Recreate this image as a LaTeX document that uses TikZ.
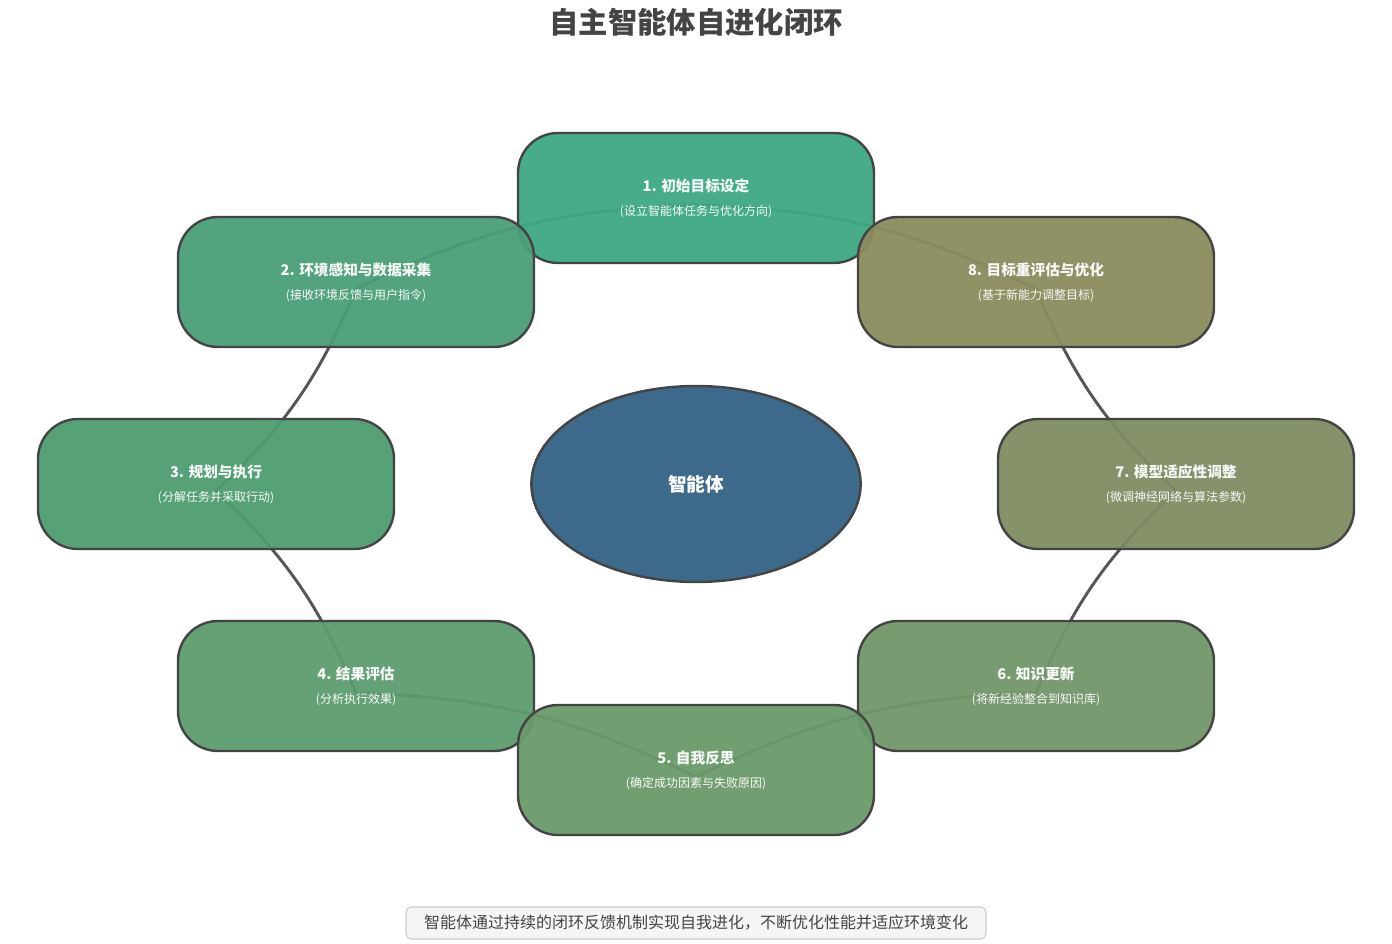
\documentclass[tikz,border=0pt]{standalone}
\usepackage{fontspec}
\setmainfont{Noto Sans CJK SC}
\usetikzlibrary{shapes.geometric}
\definecolor{c1}{HTML}{3DA882}\definecolor{c2}{HTML}{4A9E78}\definecolor{c3}{HTML}{4E9C70}
\definecolor{c4}{HTML}{5C9C6E}\definecolor{c5}{HTML}{6A9A6A}\definecolor{c6}{HTML}{72966A}
\definecolor{c7}{HTML}{7E8C62}\definecolor{c8}{HTML}{8A8C5E}\definecolor{cc}{HTML}{3D6A8A}
\definecolor{edge}{HTML}{444444}
\tikzset{
 stage/.style={draw=edge,line width=1.8pt,rounded corners=30pt,minimum width=267pt,minimum height=97.5pt,fill opacity=0.95,text=white,align=center,inner sep=0pt},
 conn/.style={draw=edge,line width=2.2pt,draw opacity=0.9},
}
\newcommand{\stg}[2]{{\fontsize{11}{14}\selectfont\bfseries #1}\\[6pt]{\fontsize{9}{11}\selectfont #2}}
\begin{document}
\begin{tikzpicture}[x=0.75pt,y=-0.75pt]
\useasboundingbox (0,0) rectangle (1392,944);
\node (title) at (696,22) {\fontsize{22}{26}\selectfont\bfseries\color{edge}自主智能体自进化闭环};
\coordinate (p1) at (696,205);\coordinate (p2) at (356,289);\coordinate (p3) at (216,491);
\coordinate (p4) at (356,693);\coordinate (p5) at (696,777);\coordinate (p6) at (1036,693);
\coordinate (p7) at (1176,491);\coordinate (p8) at (1036,289);
\draw[conn] (p1) to[bend right=12] (p2);
\draw[conn] (p2) to[bend left=12] (p3);
\draw[conn] (p3) to[bend left=12] (p4);
\draw[conn] (p4) to[bend left=12] (p5);
\draw[conn] (p5) to[bend left=12] (p6);
\draw[conn] (p6) to[bend left=12] (p7);
\draw[conn] (p7) to[bend left=12] (p8);
\draw[conn] (p8) to[bend right=12] (p1);
\node[stage,fill=c1] (n1) at (696,198) {\stg{1. 初始目标设定}{(设立智能体任务与优化方向)}};
\node[stage,fill=c2] (n2) at (356,282) {\stg{2. 环境感知与数据采集}{(接收环境反馈与用户指令)}};
\node[stage,fill=c8] (n8) at (1036,282) {\stg{8. 目标重评估与优化}{(基于新能力调整目标)}};
\node[stage,fill=c3] (n3) at (216,484) {\stg{3. 规划与执行}{(分解任务并采取行动)}};
\node[stage,fill=c7] (n7) at (1176,484) {\stg{7. 模型适应性调整}{(微调神经网络与算法参数)}};
\node[stage,fill=c4] (n4) at (356,686) {\stg{4. 结果评估}{(分析执行效果)}};
\node[stage,fill=c6] (n6) at (1036,686) {\stg{6. 知识更新}{(将新经验整合到知识库)}};
\node[stage,fill=c5] (n5) at (696,770) {\stg{5. 自我反思}{(确定成功因素与失败原因)}};
\node[ellipse,draw=edge,line width=1.8pt,fill=cc,minimum width=247pt,minimum height=147pt,text=white] (center) at (696,484) {\fontsize{14}{16}\selectfont\bfseries 智能体};
\node[draw=black!20,fill=black!4,rounded corners=4pt,line width=0.8pt,minimum width=435pt,minimum height=24pt] (foot) at (696,923) {\fontsize{12}{14}\selectfont\color{edge}智能体通过持续的闭环反馈机制实现自我进化，不断优化性能并适应环境变化};
\end{tikzpicture}
\end{document}
